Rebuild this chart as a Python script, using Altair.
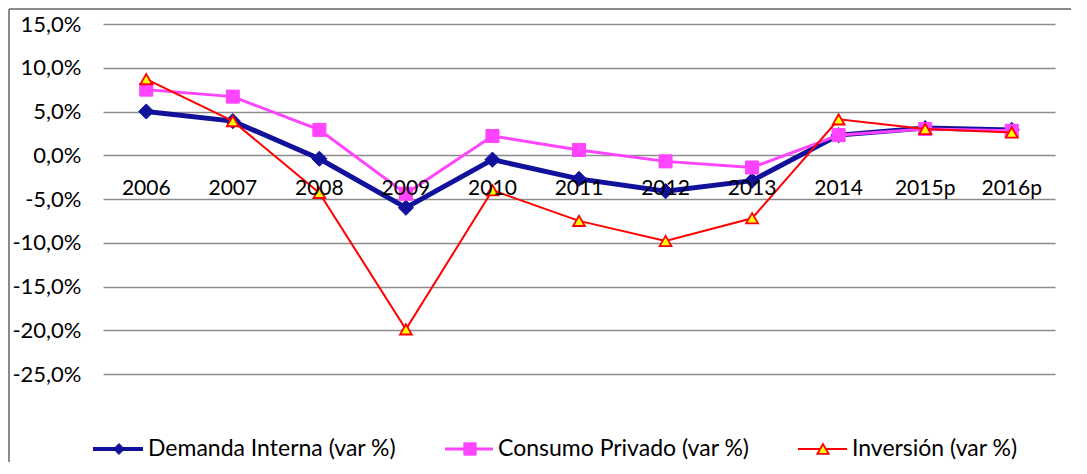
import altair as alt
import pandas as pd

years = ["2006", "2007", "2008", "2009", "2010", "2011", "2012", "2013", "2014", "2015p", "2016p"]
demanda = [5.0, 3.9, -0.4, -6.0, -0.5, -2.7, -4.1, -2.9, 2.3, 3.1, 2.9]
consumo = [7.5, 6.7, 2.9, -4.4, 2.2, 0.6, -0.7, -1.4, 2.3, 3.0, 2.8]
inversion = [8.7, 3.9, -4.3, -19.9, -4.0, -7.5, -9.8, -7.2, 4.1, 3.0, 2.6]
series_names = ["Demanda Interna (var %)", "Consumo Privado (var %)", "Inversión (var %)"]
y_ticks = [-25, -20, -15, -10, -5, 0, 5, 10, 15]

FONT = "Lato"
xscale = alt.Scale(domain=years, type="point", padding=0.5)
yscale = alt.Scale(domain=[-25, 15], nice=False, zero=False)

label_expr = "replace(replace(format(datum.value, '.1f'), '.', ','), '\u2212', '-') + '%'"
yaxis = alt.Axis(values=y_ticks, grid=True, gridColor="#8c8c8c", gridWidth=1.3,
                 domain=False, ticks=False, labelPadding=22, labelFont=FONT,
                 labelFontSize=22, labelColor="#000000", title=None,
                 labelExpr=label_expr)

styles = [
    dict(color="#11119c", lw=5, shape="diamond", size=230, fill="#11119c", stroke="#11119c", sw=1,
         llw=4, lsize=120),
    dict(color="#ff44ff", lw=3, shape="square", size=170, fill="#ff44ff", stroke="#ff44ff", sw=1,
         llw=3, lsize=150),
    dict(color="#ff0000", lw=2, shape="triangle-up", size=140, fill="#ffff00", stroke="#ff0000", sw=1.8,
         llw=2, lsize=130),
]
legend_pos = [(-10, 40, 16, 45), (342, 390, 367, 395), (695, 744, 720, 749)]
LEG_Y = 425

layers = []
for i, (vals, name, st) in enumerate(zip([demanda, consumo, inversion], series_names, styles)):
    df = pd.DataFrame({"year": years, "value": vals, "series": name})
    base = alt.Chart(df).encode(
        x=alt.X("year:N", scale=xscale, axis=None, sort=years),
        y=alt.Y("value:Q", scale=yscale, axis=yaxis),
    )
    layers.append(base.mark_line(color=st["color"], strokeWidth=st["lw"]))
    layers.append(base.mark_point(shape=st["shape"], size=st["size"], filled=True,
                                  fill=st["fill"], stroke=st["stroke"],
                                  strokeWidth=st["sw"], opacity=1))

# x category labels near the zero line
xl = pd.DataFrame({"year": years, "z": [0] * len(years)})
layers.append(alt.Chart(xl).mark_text(font=FONT, fontSize=21, baseline="alphabetic",
                                      dy=40, color="#000000").encode(
    x=alt.X("year:N", scale=xscale, axis=None, sort=years),
    y=alt.Y("z:Q", scale=yscale, axis=yaxis),
    text="year:N",
))

# custom legend
for name, st, (x1, x2, xm, xt) in zip(series_names, styles, legend_pos):
    ldf = pd.DataFrame({"label": [name]})
    lb = alt.Chart(ldf)
    layers.append(lb.mark_rule(color=st["color"], strokeWidth=st["llw"]).encode(
        x=alt.value(x1), x2=alt.value(x2), y=alt.value(LEG_Y)))
    layers.append(lb.mark_point(shape=st["shape"], size=st["lsize"], filled=True,
                                fill=st["fill"], stroke=st["stroke"],
                                strokeWidth=st["sw"], opacity=1).encode(
        x=alt.value(xm), y=alt.value(LEG_Y)))
    layers.append(lb.mark_text(font=FONT, fontSize=23, align="left", baseline="middle",
                               color="#000000").encode(
        x=alt.value(xt), y=alt.value(LEG_Y), text="label:N"))

# chart frame (left and top edges)
fr = alt.Chart(pd.DataFrame({"a": [0]}))
layers.append(fr.mark_rule(color="#8a8a8a", strokeWidth=2).encode(
    x=alt.value(-94), y=alt.value(-15), y2=alt.value(445)))
layers.append(fr.mark_rule(color="#8a8a8a", strokeWidth=2).encode(
    x=alt.value(-94), x2=alt.value(974), y=alt.value(-15)))

chart = alt.layer(*layers).properties(
    width=952, height=350,
    autosize=alt.AutoSizeParams(type="none"),
    padding={"left": 95, "top": 16, "right": 16, "bottom": 88},
    background="#ffffff",
).configure_view(stroke="transparent")

chart.save("out.html", embed_options={"renderer": "svg", "actions": False})
